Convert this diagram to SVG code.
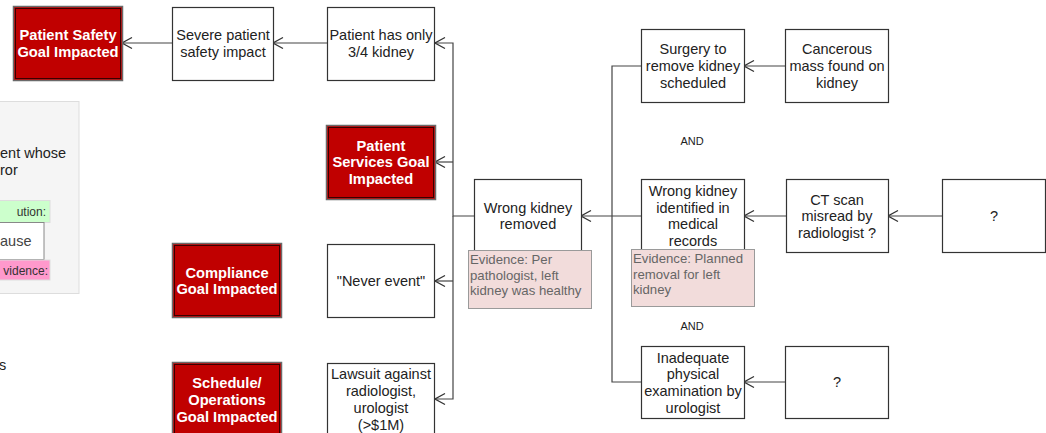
<svg xmlns="http://www.w3.org/2000/svg" width="1046" height="433" viewBox="0 0 1046 433">
<defs>
<marker id="arr" markerWidth="12" markerHeight="12" refX="0" refY="0" viewBox="-11 -6 12 12" orient="auto" markerUnits="userSpaceOnUse">
<path d="M-10,-5.5 L0,0 L-10,5.5" fill="none" stroke="#333" stroke-width="1.2"/>
</marker>
<style>
.bx{fill:#fff;stroke:#333;stroke-width:1.2}
.red{fill:#c00000;stroke:#6a6a6a;stroke-width:1.5}
.redin{fill:none;stroke:#3a0000;stroke-width:1}
.ev{fill:#f2dcdb;stroke:#9a9a9a;stroke-width:1}
.t{font-family:"Liberation Sans",Arial,sans-serif;font-size:14.5px;fill:#222;text-anchor:middle}
.w{font-family:"Liberation Sans",Arial,sans-serif;font-size:14.7px;font-weight:bold;fill:#fff;text-anchor:middle}
.e{font-family:"Liberation Sans",Arial,sans-serif;font-size:13.2px;fill:#666}
.s{font-family:"Liberation Sans",Arial,sans-serif;font-size:11px;fill:#222}
.l{font-family:"Liberation Sans",Arial,sans-serif;font-size:12px;fill:#333;text-anchor:end}
.c{fill:none;stroke:#444;stroke-width:1.2}
</style>
</defs>
<rect width="1046" height="433" fill="#fff"/>
<g id="legend">
<rect x="-5" y="101.5" width="84" height="192" fill="#f5f5f5" stroke="#ddd"/>
<text class="t" x="0" y="158" style="text-anchor:start">ent whose</text>
<text class="t" x="0" y="175" style="text-anchor:start">ror</text>
<rect x="-5" y="200.5" width="55" height="22" fill="#ccffcc" stroke="#ddd"/>
<text class="l" x="46" y="215.5">ution:</text>
<rect x="-5" y="222.5" width="49" height="37" fill="#fff" stroke="#888"/>
<text class="t" x="0" y="246" style="text-anchor:start;fill:#444;font-size:14.5px">ause</text>
<rect x="-5" y="260" width="55" height="20" fill="#ff99cc" stroke="#ddd"/>
<text class="l" x="48" y="274.5">vidence:</text>
<text class="t" x="-1" y="370" style="text-anchor:start">s</text>
</g>
<g id="connectors">
<path class="c" d="M172,43 H122" marker-end="url(#arr)"/>
<path class="c" d="M327,43 H273" marker-end="url(#arr)"/>
<path class="c" d="M474,216 H453 V43 H435" marker-end="url(#arr)"/>
<path class="c" d="M453,216 V399 H435" marker-end="url(#arr)"/>
<path class="c" d="M453,162 H435" marker-end="url(#arr)"/>
<path class="c" d="M453,281 H435" marker-end="url(#arr)"/>
<path class="c" d="M641,66 H612 V382 H641"/>
<path class="c" d="M641,216 H581" marker-end="url(#arr)"/>
<path class="c" d="M785,66 H744" marker-end="url(#arr)"/>
<path class="c" d="M786,216 H744" marker-end="url(#arr)"/>
<path class="c" d="M942,216 H888" marker-end="url(#arr)"/>
<path class="c" d="M785,382 H744" marker-end="url(#arr)"/>
</g>
<g id="n-patient-safety">
<rect class="red" x="13.5" y="6.5" width="109" height="74"/>
<rect class="redin" x="15.5" y="8.5" width="105" height="70"/>
<text class="w" x="68" y="40">Patient Safety</text>
<text class="w" x="68" y="57">Goal Impacted</text>
</g>
<g id="n-severe">
<rect class="bx" x="172.5" y="7.5" width="101" height="73"/>
<text class="t" x="223" y="40">Severe patient</text>
<text class="t" x="223" y="57">safety impact</text>
</g>
<g id="n-three-quarter">
<rect class="bx" x="327.5" y="7.5" width="107" height="73"/>
<text class="t" x="381" y="40">Patient has only</text>
<text class="t" x="381" y="57">3/4 kidney</text>
</g>
<g id="n-patient-services">
<rect class="red" x="326.5" y="125.5" width="109" height="74"/>
<rect class="redin" x="328.5" y="127.5" width="105" height="70"/>
<text class="w" x="381" y="151">Patient</text>
<text class="w" x="381" y="167">Services Goal</text>
<text class="w" x="381" y="184">Impacted</text>
</g>
<g id="n-compliance">
<rect class="red" x="172.5" y="243.5" width="109" height="74"/>
<rect class="redin" x="174.5" y="245.5" width="105" height="70"/>
<text class="w" x="227" y="278">Compliance</text>
<text class="w" x="227" y="294">Goal Impacted</text>
</g>
<g id="n-never">
<rect class="bx" x="327.5" y="244.5" width="107" height="73"/>
<text class="t" x="381" y="286">"Never event"</text>
</g>
<g id="n-schedule">
<rect class="red" x="172.5" y="362.5" width="109" height="74"/>
<rect class="redin" x="174.5" y="364.5" width="105" height="70"/>
<text class="w" x="227" y="388">Schedule/</text>
<text class="w" x="227" y="405">Operations</text>
<text class="w" x="227" y="422">Goal Impacted</text>
</g>
<g id="n-lawsuit">
<rect class="bx" x="327.5" y="363.5" width="107" height="73"/>
<text class="t" x="381" y="379">Lawsuit against</text>
<text class="t" x="381" y="396">radiologist,</text>
<text class="t" x="381" y="413">urologist</text>
<text class="t" x="381" y="430">(&gt;$1M)</text>
</g>
<g id="n-wrong-removed">
<rect class="bx" x="474.5" y="179.5" width="107" height="73"/>
<text class="t" x="528" y="213">Wrong kidney</text>
<text class="t" x="528" y="229">removed</text>
<rect class="ev" x="468.5" y="250.5" width="123" height="58"/>
<text class="e" x="470" y="264">Evidence: Per</text>
<text class="e" x="470" y="280">pathologist, left</text>
<text class="e" x="470" y="295">kidney was healthy</text>
</g>
<g id="n-surgery">
<rect class="bx" x="641.5" y="29.5" width="103" height="73"/>
<text class="t" x="693" y="54">Surgery to</text>
<text class="t" x="693" y="71">remove kidney</text>
<text class="t" x="693" y="88">scheduled</text>
</g>
<g id="n-cancer">
<rect class="bx" x="785.5" y="29.5" width="103" height="73"/>
<text class="t" x="837" y="54">Cancerous</text>
<text class="t" x="837" y="71">mass found on</text>
<text class="t" x="837" y="88">kidney</text>
</g>
<text class="s" x="692" y="145" style="text-anchor:middle">AND</text>
<g id="n-wrong-identified">
<rect class="bx" x="641.5" y="179.5" width="103" height="73"/>
<text class="t" x="693" y="196">Wrong kidney</text>
<text class="t" x="693" y="213">identified in</text>
<text class="t" x="693" y="229">medical</text>
<text class="t" x="693" y="246">records</text>
<rect class="ev" x="631.5" y="249.5" width="123" height="57"/>
<text class="e" x="633" y="263">Evidence: Planned</text>
<text class="e" x="633" y="279">removal for left</text>
<text class="e" x="633" y="294">kidney</text>
</g>
<g id="n-ct">
<rect class="bx" x="786.5" y="179.5" width="102" height="73"/>
<text class="t" x="837" y="205">CT scan</text>
<text class="t" x="837" y="221">misread by</text>
<text class="t" x="837" y="238">radiologist ?</text>
</g>
<g id="n-q1">
<rect class="bx" x="942.5" y="179.5" width="103" height="73"/>
<text class="t" x="994" y="221">?</text>
</g>
<text class="s" x="692" y="330" style="text-anchor:middle">AND</text>
<g id="n-inadequate">
<rect class="bx" x="641.5" y="346.5" width="103" height="72"/>
<text class="t" x="693" y="363">Inadequate</text>
<text class="t" x="693" y="379">physical</text>
<text class="t" x="693" y="396">examination by</text>
<text class="t" x="693" y="413">urologist</text>
</g>
<g id="n-q2">
<rect class="bx" x="785.5" y="346.5" width="103" height="72"/>
<text class="t" x="837" y="387">?</text>
</g>
</svg>
